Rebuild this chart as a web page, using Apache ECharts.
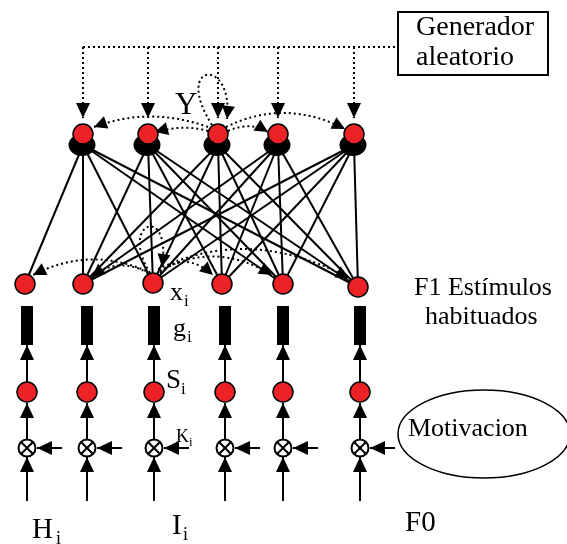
<!DOCTYPE html>
<html>
<head>
<meta charset="utf-8">
<script src="https://cdn.jsdelivr.net/npm/echarts@6/dist/echarts.min.js"></script>
<style>
  html, body { margin: 0; padding: 0; background: #fff; }
  #chart { width: 567px; height: 544px; }
</style>
</head>
<body>
<div id="chart"></div>
<script>
// capa Y (nodos de arriba)
const topX = [83, 148, 218, 278, 354];
const topY = 134;
// capa F1 (x_i)
const f1X = [25, 83, 153, 222, 283, 358];
const f1Y = [284, 284, 283, 284, 284, 287];
// columnas g_i / S_i / multiplicador
const colX = [27, 87, 154, 225, 283, 360];
const barTop = 306, barBottom = 345, sY = 392, multY = 448, inBottom = 501;
const genY = 47, genArrowTip = 118;
// conexiones Y -> F1  [nodo arriba, nodo abajo]
const links = [
  [0, 0], [0, 1], [0, 2], [0, 4], [0, 5],
  [1, 1], [1, 2], [1, 3], [1, 4], [1, 5],
  [2, 1], [2, 2], [2, 3], [2, 4], [2, 5],
  [3, 1], [3, 2], [3, 3], [3, 4], [3, 5],
  [4, 1], [4, 2], [4, 3], [4, 4], [4, 5]
];
// arcos punteados: inicio, control(es), punta
const arcs = [
  [[208, 127], [150, 106], [94, 127]],
  [[208, 131], [185, 124], [155, 132]],
  [[228, 131], [250, 121], [268, 132]],
  [[226, 127], [285, 98], [345, 129]],
  [[212, 125], [172, 62], [234, 56], [227, 119]],
  [[146, 271], [90, 246], [33, 275]],
  [[148, 273], [118, 256], [92, 277]],
  [[160, 273], [185, 250], [213, 275]],
  [[160, 271], [215, 240], [272, 275]],
  [[158, 269], [250, 225], [349, 278]],
  [[150, 273], [118, 222], [172, 203], [162, 267]]
];
// textos: texto, x izquierda, linea base, tamano
const texts = [
  ['Generador', 416, 37, 28],
  ['aleatorio', 416, 67, 28],
  ['Y', 175, 116, 31],
  ['x', 170, 302, 26], ['i', 184, 307, 17],
  ['g', 173, 338, 26], ['i', 187, 343, 17],
  ['S', 166, 390, 27], ['i', 181, 395, 17],
  ['K', 176, 443, 18], ['i', 189, 447, 13],
  ['F1 Estímulos', 414, 297, 26],
  ['habituados', 425, 326, 26],
  ['Motivacion', 408, 438, 26],
  ['H', 32, 540, 29], ['i', 56, 545, 18],
  ['I', 172, 536, 29], ['i', 183, 541, 18],
  ['F0', 405, 533, 29]
];
const genBox = [398, 12, 548, 75];
const motivEllipse = [484, 434, 86, 44];

const RED = '#ec2227';
const FONT = '"Liberation Serif", "DejaVu Serif", serif';

// flechas rectas [desde, punta, punteada]
const arrows = [];
topX.forEach(x => arrows.push([[x, genY], [x, genArrowTip], true]));
colX.forEach(c => {
  arrows.push([[c, inBottom], [c, multY + 9], false]);
  arrows.push([[c, multY - 9], [c, sY + 11], false]);
  arrows.push([[c, sY - 9], [c, barBottom], false]);
  arrows.push([[c + 35, multY], [c + 10, multY], false]);
});

function head(from, to, len, wid) {
  const dx = to[0] - from[0], dy = to[1] - from[1];
  const d = Math.hypot(dx, dy) || 1;
  const ux = dx / d, uy = dy / d;
  const bx = to[0] - ux * len, by = to[1] - uy * len;
  return {
    type: 'polygon',
    shape: { points: [[to[0], to[1]], [bx - uy * wid / 2, by + ux * wid / 2], [bx + uy * wid / 2, by - ux * wid / 2]] },
    style: { fill: '#000' }
  };
}

const idx = arr => arr.map((_, i) => [i]);

const chart = echarts.init(document.getElementById('chart'));
chart.setOption({
  animation: false,
  grid: { left: 0, right: 0, top: 0, bottom: 0 },
  xAxis: { type: 'value', min: 0, max: 567, show: false },
  yAxis: { type: 'value', min: 0, max: 544, inverse: true, show: false },
  series: [
    {
      // conexiones solidas
      type: 'custom', silent: true, data: idx(links),
      renderItem(params, api) {
        const l = links[params.dataIndex];
        const a = api.coord([topX[l[0]], topY + 11]);
        const b = api.coord([f1X[l[1]], f1Y[l[1]]]);
        return { type: 'line', shape: { x1: a[0], y1: a[1], x2: b[0], y2: b[1] }, style: { stroke: '#000', lineWidth: 2 } };
      }
    },
    {
      // linea horizontal del generador
      type: 'custom', silent: true, data: [[0]],
      renderItem(params, api) {
        const a = api.coord([topX[0], genY]);
        const b = api.coord([genBox[0], genY]);
        return { type: 'line', shape: { x1: a[0], y1: a[1], x2: b[0], y2: b[1] }, style: { stroke: '#000', lineWidth: 2, lineDash: [2, 3] } };
      }
    },
    {
      // arcos punteados
      type: 'custom', silent: true, data: idx(arcs),
      renderItem(params, api) {
        const p = arcs[params.dataIndex].map(pt => api.coord(pt));
        const end = p[p.length - 1], ctrl = p[p.length - 2];
        const shape = { x1: p[0][0], y1: p[0][1], cpx1: p[1][0], cpy1: p[1][1], x2: end[0], y2: end[1] };
        if (p.length === 4) { shape.cpx2 = p[2][0]; shape.cpy2 = p[2][1]; }
        return {
          type: 'group',
          children: [
            { type: 'bezierCurve', shape, style: { stroke: '#000', lineWidth: 2, lineDash: [2, 3], fill: null } },
            head(ctrl, end, 13, 13)
          ]
        };
      }
    },
    {
      // flechas rectas
      type: 'custom', silent: true, data: idx(arrows),
      renderItem(params, api) {
        const ar = arrows[params.dataIndex];
        const a = api.coord(ar[0]), b = api.coord(ar[1]);
        return {
          type: 'group',
          children: [
            { type: 'line', shape: { x1: a[0], y1: a[1], x2: b[0], y2: b[1] }, style: { stroke: '#000', lineWidth: 2, lineDash: ar[2] ? [2, 3] : null } },
            head(a, b, 15, 14)
          ]
        };
      }
    },
    {
      // barras g_i
      type: 'custom', silent: true, data: idx(colX),
      renderItem(params, api) {
        const a = api.coord([colX[params.dataIndex] - 6, barTop]);
        const b = api.coord([colX[params.dataIndex] + 6, barBottom]);
        return { type: 'rect', shape: { x: a[0], y: a[1], width: b[0] - a[0], height: b[1] - a[1] }, style: { fill: '#000' } };
      }
    },
    {
      // multiplicadores
      type: 'custom', silent: true, data: idx(colX),
      renderItem(params, api) {
        const c = api.coord([colX[params.dataIndex], multY]);
        const r = 8.5, k = r * 0.7;
        return {
          type: 'group',
          children: [
            { type: 'circle', shape: { cx: c[0], cy: c[1], r }, style: { fill: '#fff', stroke: '#000', lineWidth: 2 } },
            { type: 'line', shape: { x1: c[0] - k, y1: c[1] - k, x2: c[0] + k, y2: c[1] + k }, style: { stroke: '#000', lineWidth: 2 } },
            { type: 'line', shape: { x1: c[0] - k, y1: c[1] + k, x2: c[0] + k, y2: c[1] - k }, style: { stroke: '#000', lineWidth: 2 } }
          ]
        };
      }
    },
    {
      // sombras negras de la capa Y
      type: 'scatter', silent: true, symbol: 'circle', symbolSize: [27, 22],
      itemStyle: { color: '#000', opacity: 1 },
      data: topX.map(x => [x - 1, topY + 11])
    },
    {
      // nodos rojos
      type: 'scatter', silent: true, symbol: 'circle', symbolSize: 20,
      itemStyle: { color: RED, borderColor: '#000', borderWidth: 1.5, opacity: 1 },
      data: topX.map(x => [x, topY])
        .concat(f1X.map((x, i) => [x, f1Y[i]]))
        .concat(colX.map(x => [x, sY]))
    },
    {
      // caja del generador y elipse de motivacion
      type: 'custom', silent: true, data: [[0]],
      renderItem(params, api) {
        const a = api.coord([genBox[0], genBox[1]]), b = api.coord([genBox[2], genBox[3]]);
        const e = api.coord([motivEllipse[0], motivEllipse[1]]);
        return {
          type: 'group',
          children: [
            { type: 'rect', shape: { x: a[0], y: a[1], width: b[0] - a[0], height: b[1] - a[1] }, style: { fill: '#fff', stroke: '#000', lineWidth: 2 } },
            { type: 'ellipse', shape: { cx: e[0], cy: e[1], rx: motivEllipse[2], ry: motivEllipse[3] }, style: { fill: null, stroke: '#000', lineWidth: 1.5 } }
          ]
        };
      }
    },
    {
      // textos
      type: 'custom', silent: true, data: idx(texts),
      renderItem(params, api) {
        const t = texts[params.dataIndex];
        const p = api.coord([t[1], t[2] - 0.34 * t[3]]);
        return {
          type: 'text', x: p[0], y: p[1],
          style: { text: t[0], font: t[3] + 'px ' + FONT, fill: '#000', align: 'left', verticalAlign: 'middle' }
        };
      }
    }
  ]
});
</script>
</body>
</html>
